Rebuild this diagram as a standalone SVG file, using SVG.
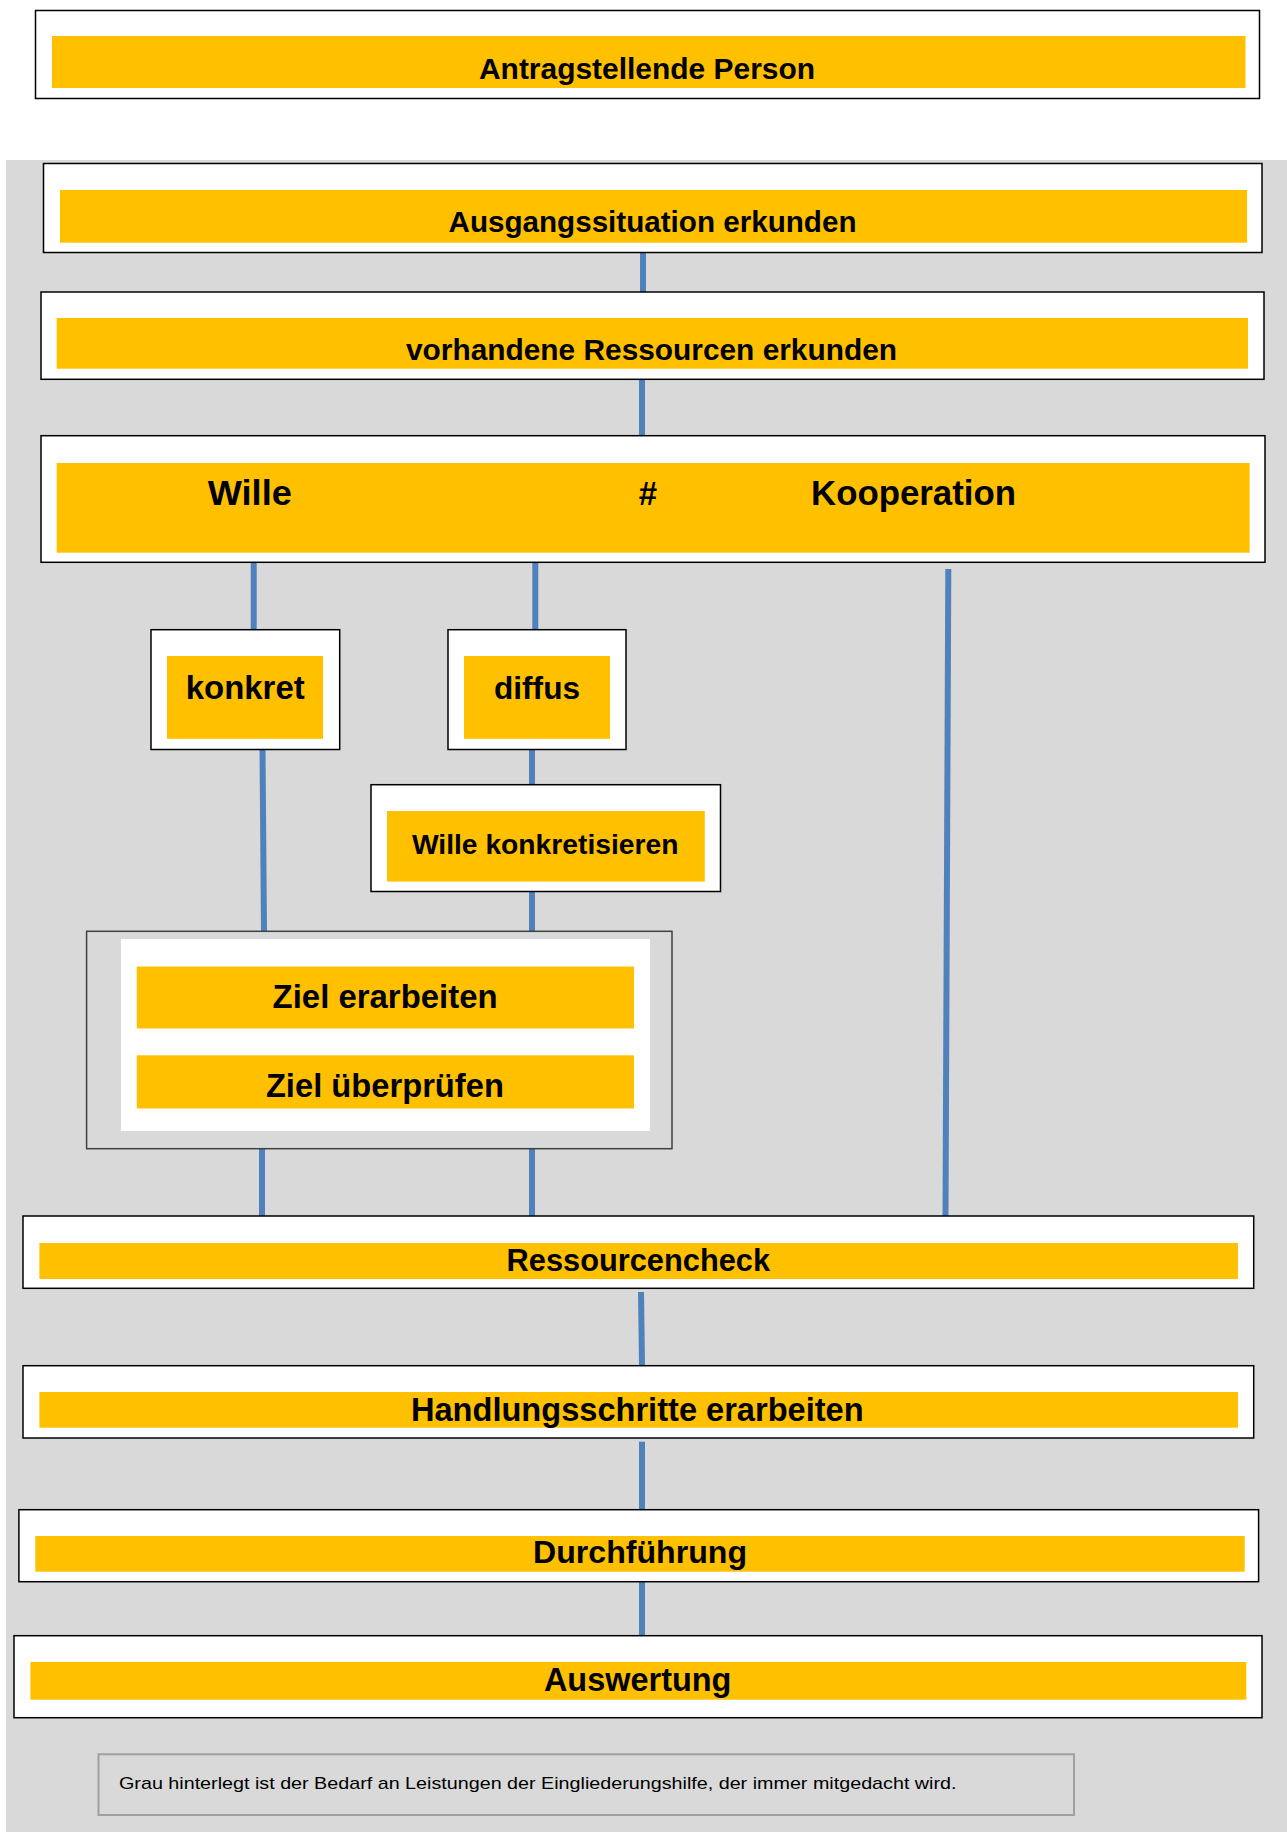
<svg xmlns="http://www.w3.org/2000/svg" width="1287" height="1832" viewBox="0 0 1287 1832">
<style>
.box{fill:#fff;stroke:#000;stroke-width:1.5}
.bar{fill:#FFC000}
.lbl{font-family:"Liberation Sans",Arial,sans-serif;font-weight:bold;fill:#000;text-anchor:middle}
.con{stroke:#4F81BD;stroke-width:6;fill:none}
</style>
<rect x="0" y="0" width="1287" height="1832" fill="#fff"/>
<rect x="6" y="160" width="1281" height="1672" fill="#D9D9D9"/>

<g id="antragstellende-person">
<rect class="box" x="35.5" y="10.5" width="1224" height="88"/>
<rect class="bar" x="52" y="36" width="1193.5" height="52"/>
<text class="lbl" x="647" y="79.3" font-size="30" textLength="336" lengthAdjust="spacingAndGlyphs">Antragstellende Person</text>
</g>

<g id="connectors">
<line class="con" x1="643" y1="252.7" x2="643" y2="292"/>
<line class="con" x1="642" y1="379.3" x2="642" y2="435.7"/>
<line class="con" x1="253.7" y1="562" x2="253.7" y2="629.7"/>
<line class="con" x1="535.3" y1="562" x2="535.3" y2="629.7"/>
<line class="con" x1="948.3" y1="569" x2="945.5" y2="1216"/>
<line class="con" x1="262.5" y1="749.5" x2="264" y2="931"/>
<line class="con" x1="532" y1="749.5" x2="532" y2="784.7"/>
<line class="con" x1="532" y1="891.5" x2="532" y2="931.3"/>
<line class="con" x1="262" y1="1148.7" x2="262" y2="1216"/>
<line class="con" x1="532" y1="1148.7" x2="532" y2="1216"/>
<line class="con" x1="641" y1="1292" x2="642" y2="1365.7"/>
<line class="con" x1="642" y1="1441.7" x2="642" y2="1509.7"/>
<line class="con" x1="642" y1="1582" x2="642" y2="1635.7"/>
</g>

<g id="ausgangssituation">
<rect class="box" x="43.5" y="163.5" width="1218.5" height="89"/>
<rect class="bar" x="60" y="190" width="1187" height="52.7"/>
<text class="lbl" x="652.5" y="232" font-size="29.6" textLength="408" lengthAdjust="spacingAndGlyphs">Ausgangssituation erkunden</text>
</g>

<g id="ressourcen-erkunden">
<rect class="box" x="41" y="292" width="1223" height="87.3"/>
<rect class="bar" x="56.7" y="318" width="1191.3" height="50.7"/>
<text class="lbl" x="651.5" y="360" font-size="29.8" textLength="491" lengthAdjust="spacingAndGlyphs">vorhandene Ressourcen erkunden</text>
</g>

<g id="wille-kooperation">
<rect class="box" x="41" y="435.7" width="1224" height="126.6"/>
<rect class="bar" x="56.7" y="463" width="1192.9" height="89.7"/>
<text class="lbl" x="249.8" y="505" font-size="35" textLength="84" lengthAdjust="spacingAndGlyphs">Wille</text>
<text class="lbl" x="648" y="505" font-size="33">#</text>
<text class="lbl" x="913.5" y="505" font-size="35" textLength="205" lengthAdjust="spacingAndGlyphs">Kooperation</text>
</g>

<g id="konkret">
<rect class="box" x="151" y="629.7" width="188.7" height="119.8"/>
<rect class="bar" x="167" y="656" width="156" height="82.8"/>
<text class="lbl" x="245.2" y="699.4" font-size="33" textLength="119" lengthAdjust="spacingAndGlyphs">konkret</text>
</g>

<g id="diffus">
<rect class="box" x="448" y="629.7" width="178" height="119.8"/>
<rect class="bar" x="464" y="656" width="146" height="82.8"/>
<text class="lbl" x="537" y="699.4" font-size="32" textLength="86" lengthAdjust="spacingAndGlyphs">diffus</text>
</g>

<g id="wille-konkretisieren">
<rect class="box" x="371" y="784.7" width="349.5" height="106.8"/>
<rect class="bar" x="387" y="811" width="317.8" height="70.6"/>
<text class="lbl" x="545.2" y="854" font-size="28" textLength="266.5" lengthAdjust="spacingAndGlyphs">Wille konkretisieren</text>
</g>

<g id="ziel">
<rect x="86.6" y="931.3" width="585.4" height="217.4" fill="#D9D9D9" stroke="#404040" stroke-width="1.5"/>
<rect x="121" y="939" width="529" height="192" fill="#fff"/>
<rect class="bar" x="136.8" y="966.5" width="497.2" height="62"/>
<text class="lbl" x="385.1" y="1007.5" font-size="33" textLength="225" lengthAdjust="spacingAndGlyphs">Ziel erarbeiten</text>
<rect class="bar" x="136.8" y="1055.3" width="497.2" height="53.2"/>
<text class="lbl" x="384.9" y="1096.6" font-size="32.7" textLength="238" lengthAdjust="spacingAndGlyphs">Ziel überprüfen</text>
</g>

<g id="ressourcencheck">
<rect class="box" x="23" y="1216" width="1230.7" height="72.3"/>
<rect class="bar" x="39.4" y="1243" width="1198.6" height="36"/>
<text class="lbl" x="638.3" y="1270.7" font-size="30.8" textLength="263.5" lengthAdjust="spacingAndGlyphs">Ressourcencheck</text>
</g>

<g id="handlungsschritte">
<rect class="box" x="23" y="1365.7" width="1230.7" height="72.3"/>
<rect class="bar" x="39.4" y="1392" width="1198.6" height="35.7"/>
<text class="lbl" x="637.3" y="1420.7" font-size="32.6" textLength="452.7" lengthAdjust="spacingAndGlyphs">Handlungsschritte erarbeiten</text>
</g>

<g id="durchfuehrung">
<rect class="box" x="18.9" y="1509.7" width="1239.7" height="72"/>
<rect class="bar" x="35.3" y="1536" width="1209.4" height="35.7"/>
<text class="lbl" x="640" y="1563.3" font-size="32.1" textLength="214" lengthAdjust="spacingAndGlyphs">Durchführung</text>
</g>

<g id="auswertung">
<rect class="box" x="14" y="1635.7" width="1248" height="82"/>
<rect class="bar" x="30.4" y="1662" width="1215.9" height="37.7"/>
<text class="lbl" x="637.7" y="1691" font-size="32.6" textLength="187.5" lengthAdjust="spacingAndGlyphs">Auswertung</text>
</g>

<g id="hinweis">
<rect x="98.5" y="1754.3" width="975.5" height="60.7" fill="#D9D9D9" stroke="#A0A0A0" stroke-width="2"/>
<text x="119" y="1789.3" font-family="'Liberation Sans',Arial,sans-serif" font-size="17" fill="#000" textLength="837.5" lengthAdjust="spacingAndGlyphs">Grau hinterlegt ist der Bedarf an Leistungen der Eingliederungshilfe, der immer mitgedacht wird.</text>
</g>
</svg>
